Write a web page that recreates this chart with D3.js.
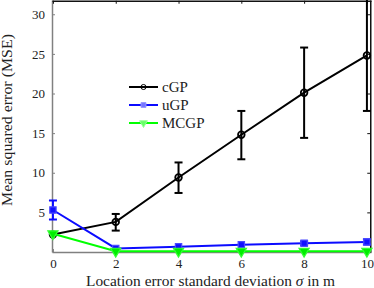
<!DOCTYPE html>
<html>
<head>
<meta charset="utf-8">
<script src="https://cdnjs.cloudflare.com/ajax/libs/d3/7.8.5/d3.min.js"></script>
<style>
body { margin: 0; background: #fff; }
text { font-family: "Liberation Serif", serif; fill: #222; }
</style>
</head>
<body>
<div id="chart"></div>
<script>
// data
var sigma = [0, 2, 4, 6, 8, 10];
var cgpMean = [2.2, 3.8, 9.4, 14.8, 20.1, 24.8];
var cgpLow = [2.2, 2.7, 7.45, 11.7, 14.4, 17.8];
var cgpHigh = [2.2, 4.8, 11.3, 17.8, 25.8, 33];
var ugpMean = [5.3, 0.45, 0.67, 0.92, 1.1, 1.26];
var ugpLow = [4.1, 0.45, 0.6, 0.85, 0.85, 0.95];
var ugpHigh = [6.5, 0.45, 0.75, 1.0, 1.35, 1.6];
var mcgpMean = [2.3, 0.1, 0.1, 0.1, 0.1, 0.1];
var xTicks = [0, 2, 4, 6, 8, 10];
var yTicks = [5, 10, 15, 20, 25, 30];

var svgWidth = 374;
var svgHeight = 288;
var margin = { top: 0, right: 3, bottom: 36, left: 52 };
var width = svgWidth - margin.left - margin.right;
var height = svgHeight - margin.top - margin.bottom;

var svg = d3.select('#chart')
    .append('svg')
    .attr('width', svgWidth)
    .attr('height', svgHeight);

var chartGroup = svg.append('g')
    .attr('transform', `translate(${margin.left},${margin.top})`);

var x = d3.scaleLinear().domain([-0.03, 10.13]).range([0, width]);
var y = d3.scaleLinear().domain([0, 31.8]).range([height, 0]);

// axes (MATLAB style, ticks inside)
var bottomAxis = d3.axisBottom(x).tickValues(xTicks).tickSizeInner(-3).tickSizeOuter(0).tickPadding(7);
var leftAxis = d3.axisLeft(y).tickValues(yTicks).tickSizeInner(-3).tickSizeOuter(0).tickPadding(7);
var topAxis = d3.axisTop(x).tickValues(xTicks).tickSizeInner(-3).tickSizeOuter(0).tickFormat('');
var rightAxis = d3.axisRight(y).tickValues(yTicks).tickSizeInner(-3).tickSizeOuter(0).tickFormat('');

var gx = chartGroup.append('g').attr('transform', `translate(0,${height})`).call(bottomAxis);
var gy = chartGroup.append('g').call(leftAxis);
var gt = chartGroup.append('g').call(topAxis);
var gr = chartGroup.append('g').call(rightAxis);

[gx, gy].forEach(function(g) {
    g.select('.domain').attr('stroke', '#808080').attr('stroke-width', 1.5);
    g.selectAll('.tick line').attr('stroke', '#808080');
    g.selectAll('.tick text').style('font-family', '"Liberation Serif", serif').style('font-size', '13px').attr('fill', '#333');
});
[gt, gr].forEach(function(g) {
    g.select('.domain').attr('stroke', '#111').attr('stroke-width', 1.5);
    g.selectAll('.tick line').attr('stroke', '#111');
});
gt.attr('transform', 'translate(0,0.75)');
gr.attr('transform', `translate(${width - 0.75},0)`);

var plot = chartGroup.append('g');

function drawSeries(mean, low, high, color, marker) {
    var pts = sigma.map(function(s, i) {
        return { s: s, m: mean[i], lo: low ? low[i] : mean[i], hi: high ? high[i] : mean[i] };
    });
    var line = d3.line().x(d => x(d.s)).y(d => y(d.m));
    plot.append('path').datum(pts)
        .attr('d', line)
        .attr('fill', 'none')
        .attr('stroke', color)
        .attr('stroke-width', 2);

    if (low) {
        var eb = plot.selectAll(null).data(pts.filter(d => d.hi - d.lo > 0.2)).enter().append('g');
        eb.append('line')
            .attr('x1', d => x(d.s)).attr('x2', d => x(d.s))
            .attr('y1', d => y(d.lo)).attr('y2', d => y(d.hi))
            .attr('stroke', color).attr('stroke-width', 2);
        eb.append('line')
            .attr('x1', d => x(d.s) - 4).attr('x2', d => x(d.s) + 4)
            .attr('y1', d => y(d.lo)).attr('y2', d => y(d.lo))
            .attr('stroke', color).attr('stroke-width', 2);
        eb.append('line')
            .attr('x1', d => x(d.s) - 4).attr('x2', d => x(d.s) + 4)
            .attr('y1', d => y(d.hi)).attr('y2', d => y(d.hi))
            .attr('stroke', color).attr('stroke-width', 2);
    }

    plot.selectAll(null).data(pts).enter()
        .append('path')
        .attr('transform', d => `translate(${x(d.s)},${y(d.m)})`)
        .call(marker);
}

function circleMarker(sel) {
    sel.attr('d', d3.symbol().type(d3.symbolCircle).size(34)())
        .attr('fill', 'none').attr('stroke', '#000').attr('stroke-width', 1.8);
}
function squareMarker(sel) {
    sel.attr('d', d3.symbol().type(d3.symbolSquare).size(40)())
        .attr('fill', '#1010ff').attr('stroke', '#4a4aff').attr('stroke-width', 1.2);
}
function triMarker(sel) {
    sel.attr('d', d3.symbol().type(d3.symbolTriangle).size(45)())
        .attr('transform', function(d) { return `translate(${x(d.s)},${y(d.m)}) rotate(180)`; })
        .attr('fill', '#00ee00').attr('stroke', '#33ff33').attr('stroke-width', 1.2);
}

drawSeries(cgpMean, cgpLow, cgpHigh, '#000', circleMarker);
drawSeries(ugpMean, ugpLow, ugpHigh, '#0b0bff', squareMarker);
drawSeries(mcgpMean, null, null, '#00ff00', triMarker);

// legend
var legendItems = [
    { name: 'cGP', color: '#000', marker: 'circle' },
    { name: 'uGP', color: '#0b0bff', marker: 'square' },
    { name: 'MCGP', color: '#00ff00', marker: 'tri' }
];
var legend = chartGroup.append('g').attr('transform', 'translate(77,87)');
legendItems.forEach(function(item, i) {
    var g = legend.append('g').attr('transform', `translate(0,${i * 18})`);
    g.append('line').attr('x1', 0).attr('x2', 29).attr('y1', 0).attr('y2', 0)
        .attr('stroke', item.color).attr('stroke-width', 2);
    var m = g.append('path');
    if (item.marker === 'circle') {
        m.attr('d', d3.symbol().type(d3.symbolCircle).size(20)())
            .attr('fill', 'none').attr('stroke', '#000').attr('stroke-width', 1)
            .attr('transform', 'translate(14.5,0)');
    } else if (item.marker === 'square') {
        m.attr('d', d3.symbol().type(d3.symbolSquare).size(24)())
            .attr('fill', '#7777ff').attr('stroke', '#9999ff').attr('stroke-width', 1)
            .attr('transform', 'translate(14.5,0)');
    } else {
        m.attr('d', d3.symbol().type(d3.symbolTriangle).size(26)())
            .attr('fill', '#66ff66').attr('stroke', '#99ff99').attr('stroke-width', 1)
            .attr('transform', 'translate(14.5,0) rotate(180)');
    }
    g.append('text').attr('x', 33).attr('y', 5)
        .style('font-size', '15px')
        .text(item.name);
});

// axis labels
chartGroup.append('text')
    .attr('transform', 'rotate(-90)')
    .attr('y', 12 - margin.left)
    .attr('x', -120)
    .attr('textLength', 172)
    .attr('lengthAdjust', 'spacingAndGlyphs')
    .style('text-anchor', 'middle')
    .style('font-size', '14px')
    .text('Mean squared error (MSE)');

var xl = chartGroup.append('text')
    .attr('x', (86 + 335) / 2 - margin.left)
    .attr('y', 285.5)
    .attr('textLength', 249)
    .attr('lengthAdjust', 'spacingAndGlyphs')
    .style('text-anchor', 'middle')
    .style('font-size', '14px');
xl.append('tspan').text('Location error standard deviation ');
xl.append('tspan').style('font-style', 'italic').text('σ');
xl.append('tspan').text(' in m');
</script>
</body>
</html>
